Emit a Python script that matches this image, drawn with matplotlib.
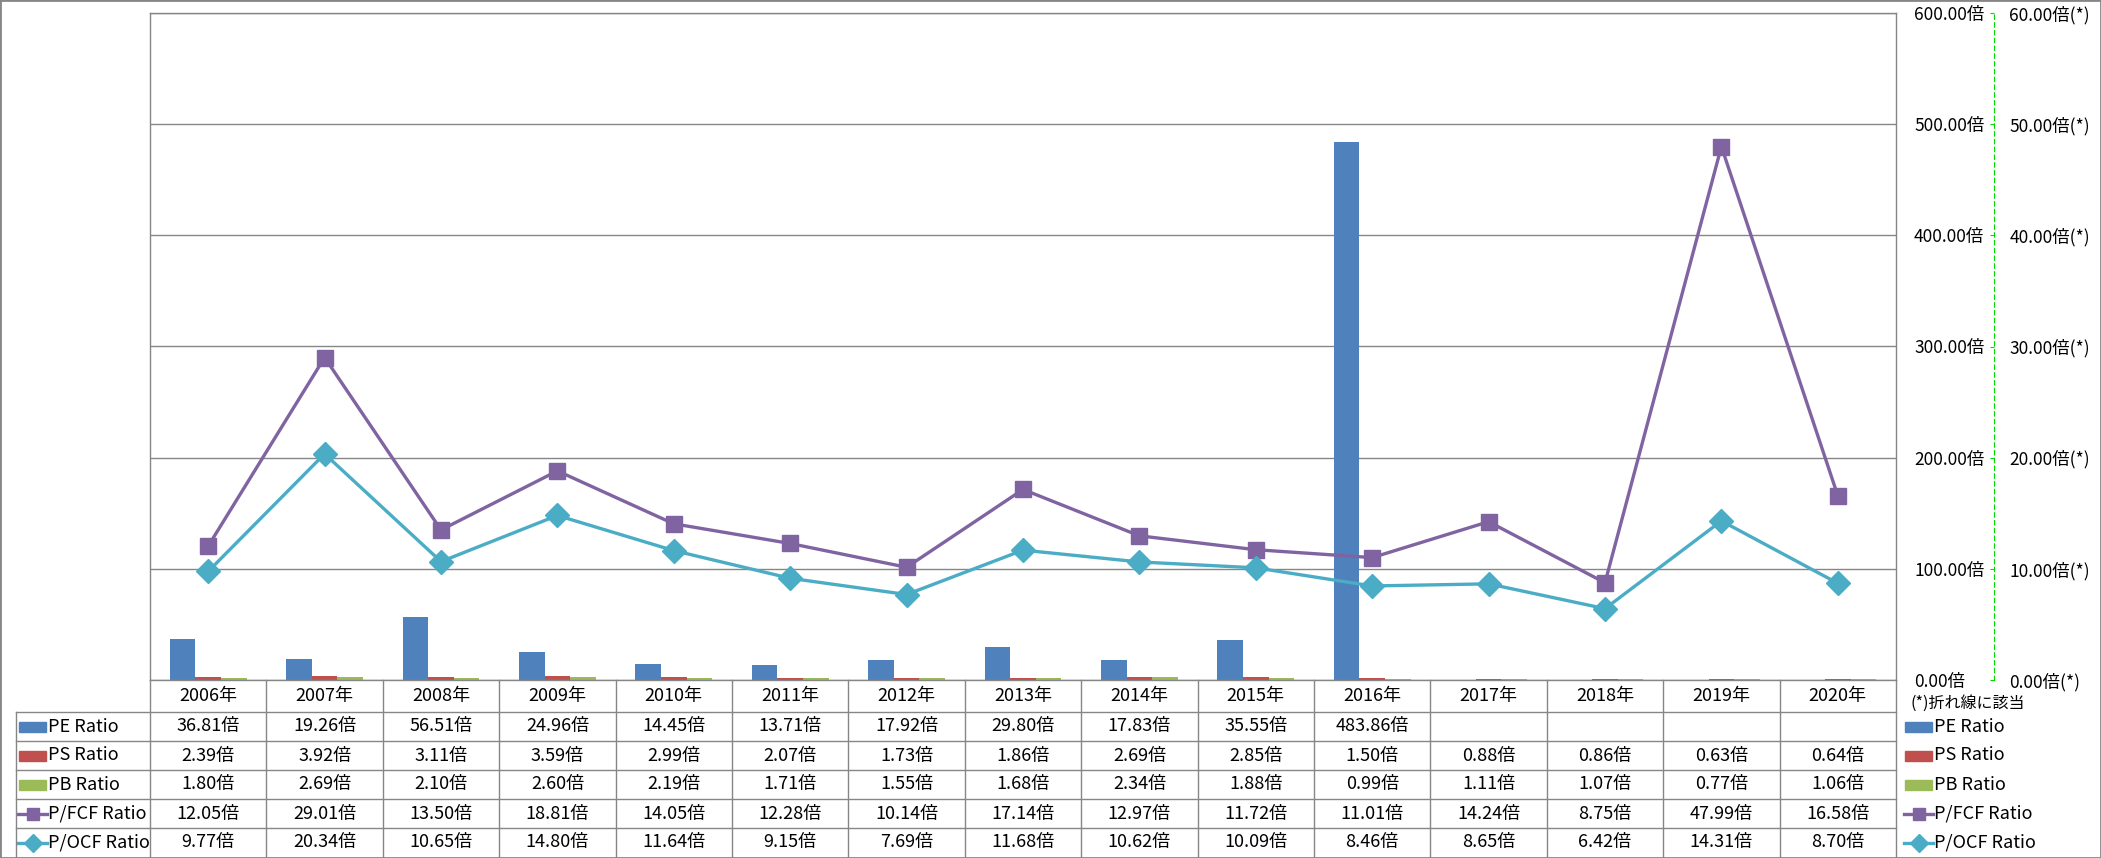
import matplotlib
matplotlib.use("Agg")
import matplotlib.pyplot as plt
import numpy as np
from matplotlib.lines import Line2D
from matplotlib.patches import Rectangle
from matplotlib.transforms import blended_transform_factory

plt.rcParams['font.family'] = ['Noto Sans CJK JP', 'DejaVu Sans']

years = ["2006年", "2007年", "2008年", "2009年", "2010年", "2011年", "2012年", "2013年",
         "2014年", "2015年", "2016年", "2017年", "2018年", "2019年", "2020年"]
pe = [36.81, 19.26, 56.51, 24.96, 14.45, 13.71, 17.92, 29.80, 17.83, 35.55, 483.86,
      np.nan, np.nan, np.nan, np.nan]
ps = [2.39, 3.92, 3.11, 3.59, 2.99, 2.07, 1.73, 1.86, 2.69, 2.85, 1.50, 0.88, 0.86, 0.63, 0.64]
pb = [1.80, 2.69, 2.10, 2.60, 2.19, 1.71, 1.55, 1.68, 2.34, 1.88, 0.99, 1.11, 1.07, 0.77, 1.06]
pfcf = [12.05, 29.01, 13.50, 18.81, 14.05, 12.28, 10.14, 17.14, 12.97, 11.72, 11.01, 14.24,
        8.75, 47.99, 16.58]
pocf = [9.77, 20.34, 10.65, 14.80, 11.64, 9.15, 7.69, 11.68, 10.62, 10.09, 8.46, 8.65,
        6.42, 14.31, 8.70]

BLUE, RED, GREEN = "#4F81BD", "#C0504D", "#9BBB59"
PURPLE, CYAN = "#8064A2", "#4BACC6"
GRID = "#868686"
AXGREEN = "#00D800"

W, H = 2101, 858
fig = plt.figure(figsize=(W / 100, H / 100), dpi=100)


def fx(px):
    return px / W


def fy(py):
    return 1 - py / H


L, R, T, B = 150, 1896, 13, 680
ax = fig.add_axes([fx(L), fy(B), fx(R - L), (B - T) / H])
x = np.arange(len(years))
bw = 0.22
ax.bar(x - bw, pe, bw, color=BLUE)
ax.bar(x, ps, bw, color=RED)
ax.bar(x + bw, pb, bw, color=GREEN)
ax.set_xlim(-0.5, len(years) - 0.5)
ax.set_ylim(0, 600)
ax.set_yticks(np.arange(0, 601, 100))
ax.set_xticks([])
ax.grid(axis='y', color=GRID, lw=1)
ax.set_axisbelow(True)
for s in ax.spines.values():
    s.set_color(GRID)
    s.set_linewidth(1)

ax2 = ax.twinx()
ax2.plot(x, pfcf, color=PURPLE, lw=2.4, marker='s', ms=12, zorder=3)
ax2.plot(x, pocf, color=CYAN, lw=2.4, marker='D', ms=12, zorder=4)
ax2.set_ylim(0, 60)
ax2.set_yticks(np.arange(0, 61, 10))
ax2.yaxis.set_major_formatter(lambda v, p: f"{v:.2f}倍(*)")
for s in ['top', 'left', 'bottom']:
    ax2.spines[s].set_visible(False)
ax2.spines['right'].set_position(('axes', (1994 - L) / (R - L)))
ax2.spines['right'].set_color(AXGREEN)
ax2.spines['right'].set_linestyle((0, (4, 3)))
ax2.tick_params(axis='y', direction='in', length=3, color=AXGREEN, pad=11, labelsize=12.5)

# primary labels sit on the right, between the plot and the green axis
ax.yaxis.tick_right()
ax.yaxis.set_major_formatter(lambda v, p: f"{v:.2f}倍")
ax.tick_params(axis='y', length=0, pad=13, labelsize=12.5)

# data table under the plot
bt = blended_transform_factory(ax.transData, fig.transFigure)
fs = 13
for i, yr in enumerate(years):
    fig.text(i, fy(696), yr, transform=bt, ha='center', va='center', fontsize=fs)

rows = [("PE Ratio", pe, BLUE, None), ("PS Ratio", ps, RED, None), ("PB Ratio", pb, GREEN, None),
        ("P/FCF Ratio", pfcf, PURPLE, 's'), ("P/OCF Ratio", pocf, CYAN, 'D')]
row_top = 712
row_h = 29
for r, (name, vals, col, mk) in enumerate(rows):
    yc = row_top + row_h * r + row_h / 2
    for i, v in enumerate(vals):
        if not np.isnan(v):
            fig.text(i, fy(yc), f"{v:.2f}倍", transform=bt, ha='center', va='center', fontsize=fs)
    # legend keys: in the table and on the right
    for kx, tx in [(19, 48), (1905, 1934)]:
        if mk is None:
            fig.add_artist(Rectangle((fx(kx), fy(yc + 5)), fx(27), 10 / H, color=col,
                                     transform=fig.transFigure))
        else:
            fig.add_artist(Line2D([fx(kx - 1), fx(kx + 28)], [fy(yc), fy(yc)], color=col, lw=2.4,
                                  transform=fig.transFigure))
            fig.add_artist(Line2D([fx(kx + 13.5)], [fy(yc)], color=col, marker=mk, ms=9,
                                  transform=fig.transFigure))
        fig.text(fx(tx), fy(yc), name, ha='left', va='center', fontsize=fs)

# table grid lines
for k in range(len(years) + 1):
    fig.add_artist(Line2D([k - 0.5, k - 0.5], [fy(B), fy(H)], color=GRID, lw=1, transform=bt))
for r in range(len(rows)):
    yl = row_top + row_h * r
    fig.add_artist(Line2D([fx(16), fx(R)], [fy(yl), fy(yl)], color=GRID, lw=1,
                          transform=fig.transFigure))
fig.add_artist(Line2D([fx(16), fx(16)], [fy(row_top), fy(H)], color=GRID, lw=1,
                      transform=fig.transFigure))

fig.text(fx(1910), fy(703), "(*)折れ線に該当", ha='left', va='center', fontsize=11.5)

fig.add_artist(Rectangle((0, 0), 1, 1, fill=False, edgecolor=GRID, lw=2,
                         transform=fig.transFigure))

fig.savefig("out.png", dpi=100)
